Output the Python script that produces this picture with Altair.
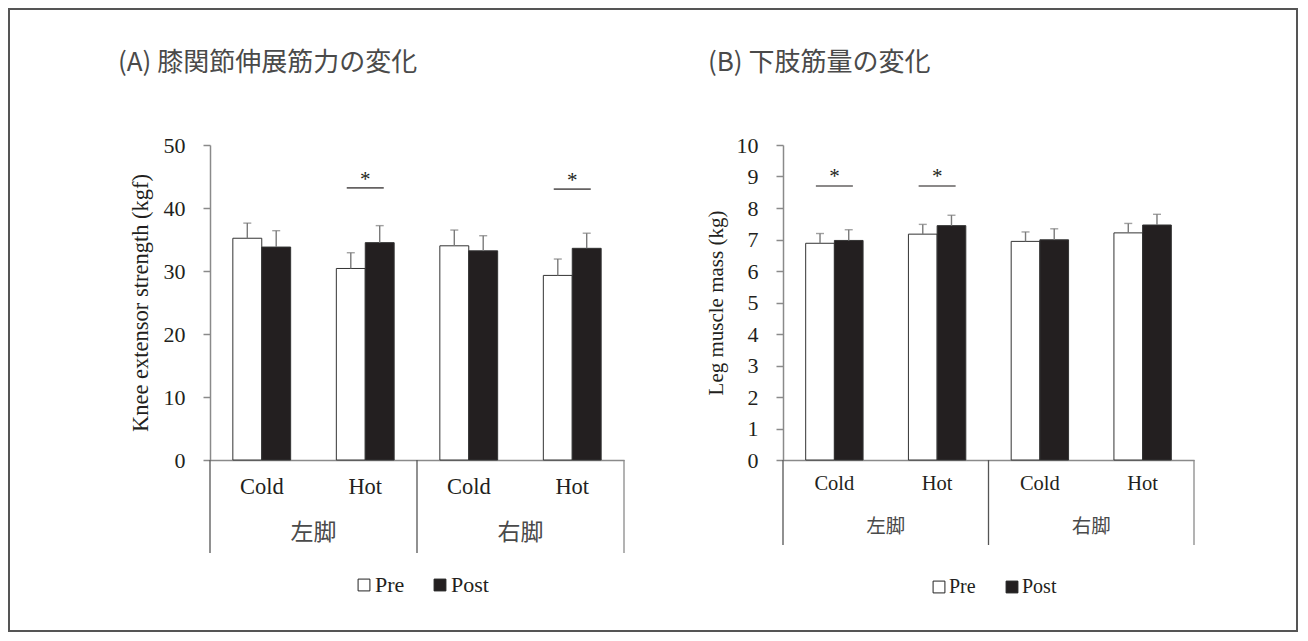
import altair as alt
import pandas as pd

legs = ["左脚", "右脚"]
conds = ["Cold", "Hot"]
phases = ["Pre", "Post"]

# order: 左脚 Cold Pre, Post, 左脚 Hot Pre, Post, 右脚 Cold Pre, Post, 右脚 Hot Pre, Post
a_mean = [35.2, 33.8, 30.4, 34.5, 34.0, 33.2, 29.3, 33.6]
a_sd = [2.4, 2.6, 2.5, 2.7, 2.5, 2.4, 2.6, 2.4]
b_mean = [6.88, 6.97, 7.17, 7.44, 6.94, 6.99, 7.21, 7.46]
b_sd = [0.31, 0.34, 0.31, 0.33, 0.30, 0.35, 0.30, 0.34]

a_sig_cats = ["左脚-Hot", "右脚-Hot"]
a_sig_y = [43.2, 43.0]
b_sig_cats = ["左脚-Cold", "左脚-Hot"]
b_sig_y = [8.7, 8.7]

title_a = "(A) 膝関節伸展筋力の変化"
title_b = "(B) 下肢筋量の変化"
ytitle_a = "Knee extensor strength (kgf)"
ytitle_b = "Leg muscle mass (kg)"

cat_order = [f"{l}-{c}" for l in legs for c in conds]
SERIF = "Liberation Serif"
CJK = "Noto Sans CJK JP"


def panel(mean, sd, ymax, ystep, ytitle, title, sig_cats, sig_y, star_dy,
          width, height, ylab_size, ytitle_size, ytitle_pad,
          xlab_size, xlab_pad, grp_off, sep_len, grp_size,
          leg_x, leg_y, leg_size, leg_pad, title_x, border=False):
    rows = []
    i = 0
    for l in legs:
        for c in conds:
            for p in phases:
                rows.append({"cat": f"{l}-{c}", "phase": p, "mean": mean[i],
                             "upper": round(mean[i] + sd[i], 3)})
                i += 1
    df = pd.DataFrame(rows)

    xaxis = alt.Axis(title=None, ticks=False, tickSize=0, labelAngle=0,
                     labelExpr="split(datum.label, '-')[1]",
                     labelFont=SERIF, labelFontSize=xlab_size, labelColor="#231f20",
                     labelPadding=xlab_pad, domainColor="#8a8a8a", domainWidth=1.5)
    xscale = alt.Scale(domain=cat_order, paddingInner=0, paddingOuter=0)
    x_enc = alt.X("cat:N", scale=xscale, axis=xaxis)
    xo = alt.XOffset("phase:N", scale=alt.Scale(domain=phases, paddingInner=0, paddingOuter=0.79))
    yaxis = alt.Axis(title=ytitle, values=list(range(0, ymax + 1, ystep)), grid=False,
                     tickSize=7, tickColor="#8a8a8a", tickWidth=1.5,
                     domainColor="#8a8a8a", domainWidth=1.5,
                     labelFont=SERIF, labelFontSize=ylab_size, labelColor="#231f20",
                     labelPadding=18,
                     titleFont=SERIF, titleFontSize=ytitle_size, titleFontWeight="normal",
                     titleColor="#231f20", titlePadding=ytitle_pad)
    yscale = alt.Scale(domain=[0, ymax], nice=False, zero=True)

    bars = alt.Chart(df).mark_bar(stroke="#333333", strokeWidth=1).encode(
        x=x_enc, xOffset=xo,
        y=alt.Y("mean:Q", scale=yscale, axis=yaxis),
        fill=alt.Fill("phase:N", scale=alt.Scale(domain=phases, range=["#ffffff", "#231f20"]),
                      legend=alt.Legend(orient="none", legendX=leg_x, legendY=leg_y,
                                        direction="horizontal", title=None,
                                        symbolType="square", symbolSize=140,
                                        symbolStrokeColor="#222222", symbolStrokeWidth=1,
                                        labelFont=SERIF, labelFontSize=leg_size,
                                        labelColor="#231f20", columnPadding=leg_pad,
                                        labelOffset=0)),
    )
    err = alt.Chart(df).mark_rule(color="#7a7a7a", strokeWidth=1.4).encode(
        x=x_enc, xOffset=xo,
        y=alt.Y("mean:Q", scale=yscale, axis=yaxis), y2="upper:Q")
    caps = alt.Chart(df).mark_tick(color="#7a7a7a", size=8, thickness=1.4).encode(
        x=x_enc, xOffset=xo, y=alt.Y("upper:Q", scale=yscale, axis=yaxis))

    sig_df = pd.DataFrame({"cat": sig_cats, "y": sig_y})
    sig = alt.Chart(sig_df).mark_tick(color="#231f20", size=37, thickness=1.6).encode(
        x=x_enc, y=alt.Y("y:Q", scale=yscale, axis=yaxis))
    star = alt.Chart(sig_df).mark_text(text="*", font=SERIF, fontSize=21, color="#231f20",
                                       dy=star_dy).encode(
        x=x_enc, y=alt.Y("y:Q", scale=yscale, axis=yaxis))

    sep_df = pd.DataFrame({"cat": [f"{l}-{conds[0]}" for l in legs]})
    sep = alt.Chart(sep_df).mark_rule(color="#555555", strokeWidth=1.3).encode(
        x=alt.X("cat:N", scale=xscale, axis=xaxis, bandPosition=0),
        y=alt.value(height), y2=alt.value(height + sep_len))
    sep_end_df = pd.DataFrame({"cat": [cat_order[-1]]})
    sep_end = alt.Chart(sep_end_df).mark_rule(color="#8a8a8a", strokeWidth=1.3).encode(
        x=alt.X("cat:N", scale=xscale, axis=xaxis, bandPosition=1),
        y=alt.value(height), y2=alt.value(height + sep_len))

    grp_df = pd.DataFrame({"cat": [f"{l}-{conds[1]}" for l in legs], "label": legs})
    grp = alt.Chart(grp_df).mark_text(font=CJK, fontSize=grp_size, color="#4a4a4a",
                                      baseline="middle").encode(
        x=alt.X("cat:N", scale=xscale, axis=xaxis, bandPosition=0),
        y=alt.value(height + grp_off), text="label:N")

    one = pd.DataFrame({"z": [0]})
    ttl = alt.Chart(one).mark_text(text=title, font=CJK, fontSize=26, color="#4a4a4a",
                                   align="left", baseline="middle").encode(
        x=alt.value(title_x), y=alt.value(-82))

    layers = [bars, err, caps, sig, star, sep, sep_end, grp, ttl]
    if border:
        frame = alt.Chart(one).mark_rect(fill="#ffffff", fillOpacity=0, stroke="#555555",
                                         strokeWidth=2).encode(
            x=alt.value(-201), x2=alt.value(1087), y=alt.value(-136), y2=alt.value(486))
        layers = [frame] + layers
    return alt.layer(*layers).properties(width=width, height=height)


pa = panel(a_mean, a_sd, 50, 10, ytitle_a, title_a, a_sig_cats, a_sig_y, -8,
           414, 315, 22, 22.5, 11, 22.5, 15, 73, 93, 23, 143, 429, 22, 24, -92,
           border=True)
pb = panel(b_mean, b_sd, 10, 1, ytitle_b, title_b, b_sig_cats, b_sig_y, -9,
           411, 315, 22, 21, 10, 20.5, 13, 67, 85, 19.5, 146, 432, 20, 26, -75)

chart = alt.hconcat(pa, pb, spacing=159, bounds="flush").resolve_scale(
    x="independent", y="independent", xOffset="independent", fill="independent"
).properties(padding=0).configure_view(stroke=None)

chart.save("out.html", embed_options={"renderer": "svg", "actions": False})
